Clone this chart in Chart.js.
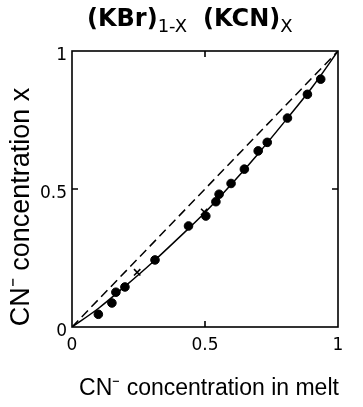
<!DOCTYPE html>
<html>

<head>
  <title>(KBr)1-x (KCN)x segregation</title>
  <script src="https://cdn.jsdelivr.net/npm/chart.js"></script>
  <style>
    body { margin: 0; background: #fff; }
  </style>
</head>

<body>
  <canvas id="myChart" width="363" height="407" style="width:363px;height:407px;"></canvas>
  <script>
    // solid curve (crystal vs melt)
    const curveX = [0, 0.1, 0.2, 0.3, 0.4, 0.5, 0.6, 0.7, 0.8, 0.9, 1];
    const curveY = [0, 0.068, 0.148, 0.232, 0.322, 0.415, 0.518, 0.628, 0.745, 0.865, 1];
    // measured points
    const dotX = [0.099, 0.150, 0.165, 0.199, 0.312, 0.438, 0.503, 0.541, 0.553, 0.598, 0.648, 0.700, 0.734, 0.810, 0.885, 0.935];
    const dotY = [0.046, 0.087, 0.126, 0.145, 0.243, 0.366, 0.402, 0.454, 0.481, 0.520, 0.572, 0.638, 0.669, 0.757, 0.843, 0.898];
    const crossX = [0.245, 0.497];
    const crossY = [0.198, 0.417];
    const tickValues = [0, 0.5, 1];
    const tickLabels = ['0', '0.5', '1'];

    const pts = (xs, ys) => xs.map((x, i) => ({ x: x, y: ys[i] }));

    const frame = {
      id: 'frame',
      beforeDatasetsDraw(chart) {
        const { ctx, chartArea: a, scales } = chart;
        ctx.save();
        ctx.strokeStyle = '#000';
        ctx.lineWidth = 1.6;
        ctx.strokeRect(a.left, a.top, a.right - a.left, a.bottom - a.top);
        // inward ticks at 0.5
        const px = scales.x.getPixelForValue(0.5);
        const py = scales.y.getPixelForValue(0.5);
        ctx.beginPath();
        ctx.moveTo(px, a.bottom); ctx.lineTo(px, a.bottom - 6);
        ctx.moveTo(px, a.top); ctx.lineTo(px, a.top + 6);
        ctx.moveTo(a.left, py); ctx.lineTo(a.left + 6, py);
        ctx.moveTo(a.right, py); ctx.lineTo(a.right - 6, py);
        ctx.stroke();
        ctx.restore();
      },
      afterDraw(chart) {
        const { ctx } = chart;
        ctx.save();
        ctx.fillStyle = '#000';
        ctx.textBaseline = 'alphabetic';
        // title with subscripts
        const big = 'bold 24px "DejaVu Sans"';
        const small = '18px "DejaVu Sans"';
        let x = 87;
        [['(KBr)', big, 26], ['1-X', small, 32], ['(KCN)', big, 26], ['X', small, 32]].forEach((p, i) => {
          ctx.font = p[1];
          ctx.fillText(p[0], x, p[2]);
          x += ctx.measureText(p[0]).width + (i === 1 ? 16 : 0);
        });
        // axis titles
        ctx.textAlign = 'center';
        ctx.textBaseline = 'middle';
        ctx.font = '23px "Liberation Sans"';
        ctx.fillText('CN\u207B concentration in melt', 209, 389);
        ctx.font = '27px "Liberation Sans"';
        ctx.translate(22, 207);
        ctx.rotate(-Math.PI / 2);
        ctx.fillText('CN\u207B concentration x', 0, 0);
        ctx.restore();
      }
    };

    const tickOpts = (pad, offset) => ({
      padding: pad,
      labelOffset: offset,
      color: '#000',
      font: { size: 17, family: 'DejaVu Sans' },
      callback: v => tickLabels[tickValues.indexOf(v)]
    });

    const ctx = document.getElementById('myChart').getContext('2d');
    new Chart(ctx, {
      type: 'scatter',
      data: {
        datasets: [{
          data: pts([0, 1], [0, 1]),
          showLine: true,
          borderColor: '#000',
          borderWidth: 1.5,
          borderDash: [9, 5],
          pointRadius: 0
        }, {
          data: pts(curveX, curveY),
          showLine: true,
          cubicInterpolationMode: 'monotone',
          borderColor: '#000',
          borderWidth: 1.5,
          pointRadius: 0
        }, {
          data: pts(dotX, dotY),
          backgroundColor: '#000',
          borderColor: '#000',
          pointRadius: 4.3,
          pointHoverRadius: 4.3
        }, {
          data: pts(crossX, crossY),
          pointStyle: 'crossRot',
          borderColor: '#000',
          borderWidth: 1.6,
          pointRadius: 4.5
        }]
      },
      options: {
        responsive: false,
        animation: false,
        layout: { padding: { left: 0, right: 25, top: 51, bottom: 0 } },
        plugins: {
          legend: { display: false },
          tooltip: { enabled: false }
        },
        scales: {
          x: {
            type: 'linear',
            min: 0,
            max: 1,
            grid: { display: false, drawTicks: false },
            border: { display: false },
            afterFit: s => { s.height = 80; },
            afterBuildTicks: s => { s.ticks = tickValues.map(v => ({ value: v })); },
            ticks: tickOpts(8, 0)
          },
          y: {
            type: 'linear',
            min: 0,
            max: 1,
            grid: { display: false, drawTicks: false },
            border: { display: false },
            afterFit: s => { s.width = 72; },
            afterBuildTicks: s => { s.ticks = tickValues.map(v => ({ value: v })); },
            ticks: tickOpts(5, 5)
          }
        }
      },
      plugins: [frame]
    });
  </script>
</body>

</html>
